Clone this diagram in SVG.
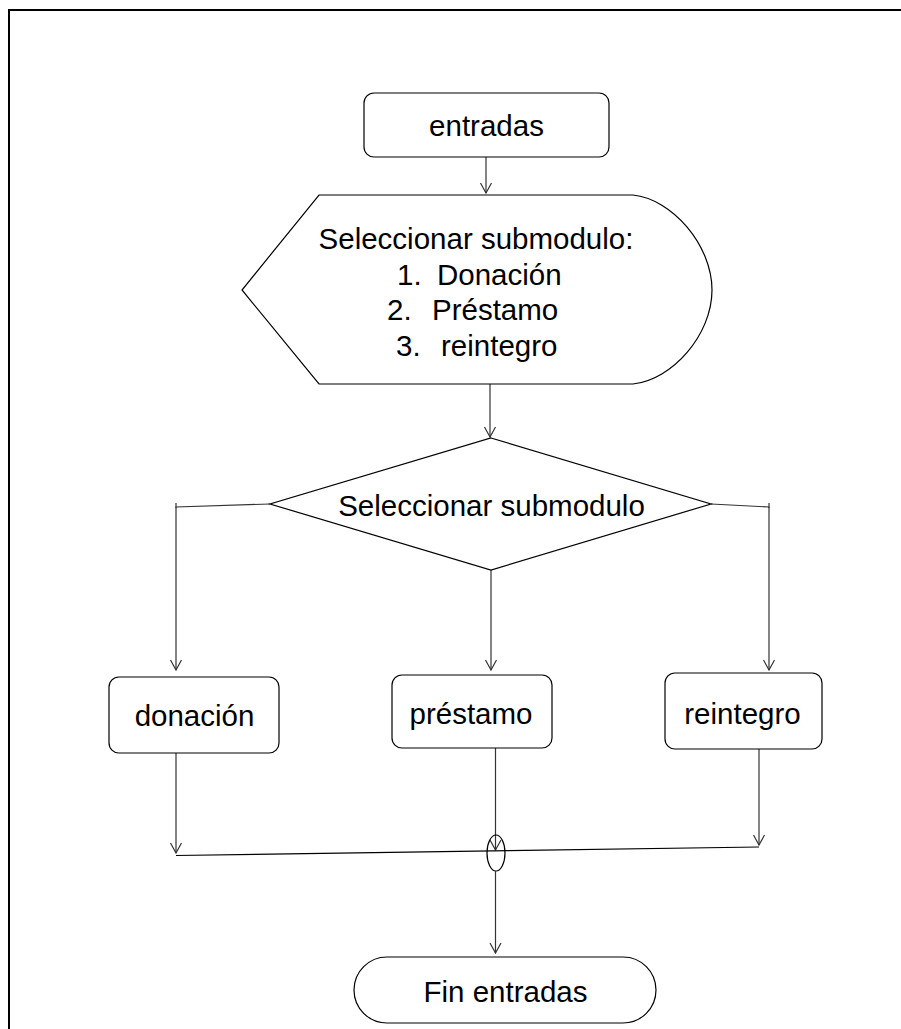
<svg xmlns="http://www.w3.org/2000/svg" width="901" height="1029" viewBox="0 0 901 1029">
<style>
.shape{fill:#fff;stroke:#000;stroke-width:1.2}
.conn{fill:none;stroke:#333;stroke-width:1.2}
.t{font-family:"Liberation Sans",Arial,sans-serif;font-size:29.5px;fill:#000}
.c{text-anchor:middle}
</style>
<defs>
<marker id="arr" viewBox="-12 -7 14 14" refX="0" refY="0" markerWidth="14" markerHeight="14" markerUnits="userSpaceOnUse" orient="auto">
<path d="M-10,-5.5 L0,0 L-10,5.5" fill="none" stroke="#333" stroke-width="1.2"/>
</marker>
</defs>
<rect x="0" y="0" width="901" height="1029" fill="#fff"/>
<path d="M9,1029 L9,10 L901,10" fill="none" stroke="#000" stroke-width="2"/>

<g id="connectors">
<line class="conn" x1="486" y1="157" x2="486" y2="193" marker-end="url(#arr)"/>
<line class="conn" x1="490" y1="384" x2="490" y2="437" marker-end="url(#arr)"/>
<polyline class="conn" points="270,504 176,507 176,670" marker-end="url(#arr)"/>
<line class="conn" x1="176" y1="503" x2="176" y2="508"/>
<polyline class="conn" points="711,504 769,507 769,670" marker-end="url(#arr)"/>
<line class="conn" x1="769" y1="503" x2="769" y2="508"/>
<line class="conn" x1="491" y1="570" x2="491" y2="670" marker-end="url(#arr)"/>
<line class="conn" x1="176" y1="753" x2="176" y2="853" marker-end="url(#arr)"/>
<line class="conn" x1="759" y1="749" x2="759" y2="845" marker-end="url(#arr)"/>
<line class="conn" x1="495.5" y1="748" x2="495.5" y2="850" marker-end="url(#arr)"/>
<line x1="176" y1="855.5" x2="759" y2="847" stroke="#000" stroke-width="1.2"/>
<ellipse cx="496" cy="853" rx="9" ry="18" fill="none" stroke="#000" stroke-width="1.2"/>
<line class="conn" x1="495.5" y1="871" x2="495.5" y2="953" marker-end="url(#arr)"/>
</g>

<g id="node-entradas">
<rect class="shape" x="364" y="93" width="245" height="64" rx="10" ry="10"/>
<text class="t c" x="486.5" y="136">entradas</text>
</g>

<g id="node-display">
<path class="shape" d="M319,195 L633,195 C672,199 712,245 712,290 C712,335 672,380 633,384 L319,384 L242,290 Z"/>
<text class="t c" x="476" y="249">Seleccionar submodulo:</text>
<text class="t" x="397" y="285">1.</text><text class="t" x="437" y="285">Donación</text>
<text class="t" x="387" y="320">2.</text><text class="t" x="432" y="320">Préstamo</text>
<text class="t" x="396" y="356">3.</text><text class="t" x="441" y="356">reintegro</text>
</g>

<g id="node-decision">
<polygon class="shape" points="491,438 711,504 491,570 270,504"/>
<text class="t c" x="491.5" y="516">Seleccionar submodulo</text>
</g>

<g id="node-donacion">
<rect class="shape" x="109" y="677" width="170" height="76" rx="10" ry="10"/>
<text class="t c" x="194.5" y="726">donación</text>
</g>

<g id="node-prestamo">
<rect class="shape" x="392" y="675" width="160" height="73" rx="10" ry="10"/>
<text class="t c" x="471" y="724">préstamo</text>
</g>

<g id="node-reintegro">
<rect class="shape" x="665" y="673" width="157" height="76" rx="10" ry="10"/>
<text class="t c" x="742.5" y="724">reintegro</text>
</g>

<g id="node-fin">
<rect class="shape" x="354" y="957" width="302" height="66" rx="33" ry="33"/>
<text class="t c" x="505.5" y="1002">Fin entradas</text>
</g>
</svg>
